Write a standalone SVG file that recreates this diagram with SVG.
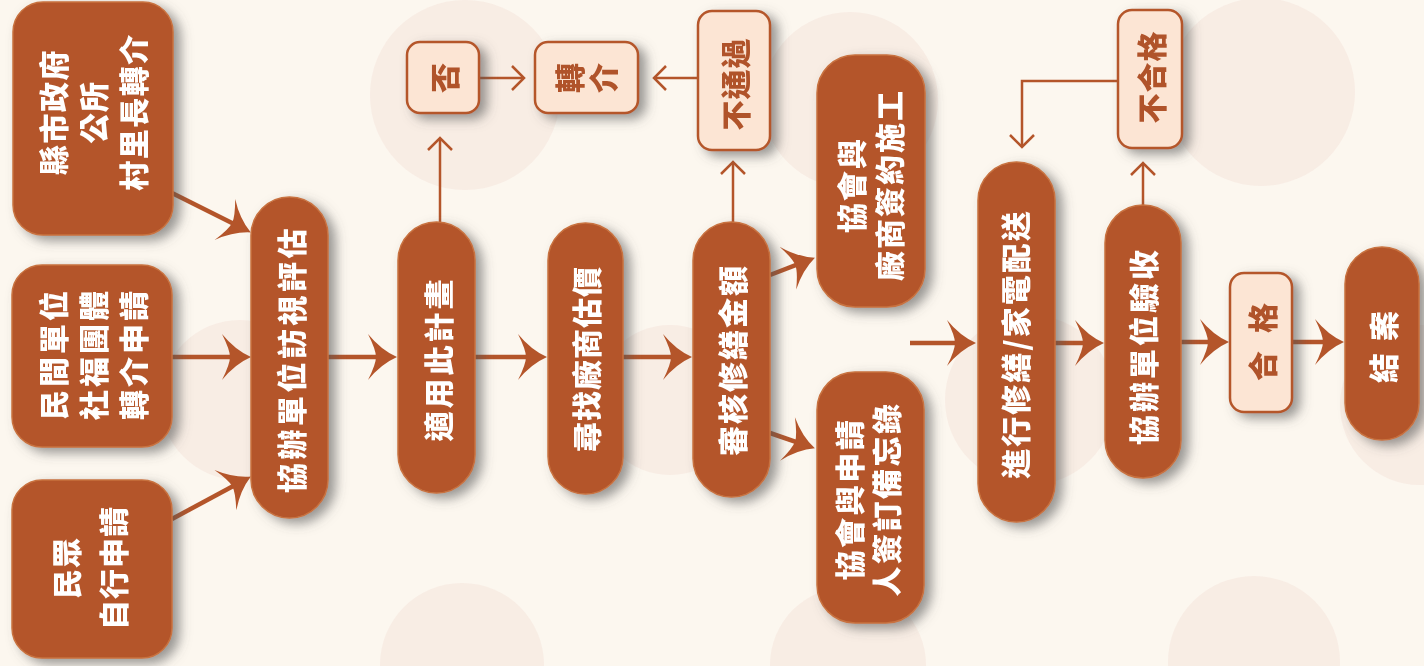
<svg xmlns="http://www.w3.org/2000/svg" width="1424" height="666" viewBox="0 0 1424 666">
<defs>
<style>
.dk{fill:#b4552a;stroke:#c8723f;stroke-width:1.5}
.lt{fill:#fce5d4;stroke:#b5572b;stroke-width:2.5}
.tw{fill:#ffffff;font-family:"Noto Sans CJK TC","Noto Sans CJK SC",sans-serif;font-weight:900;font-size:30px;text-anchor:middle;dominant-baseline:central}
.tb{fill:#b0532a;font-family:"Noto Sans CJK TC","Noto Sans CJK SC",sans-serif;font-weight:900;font-size:30px;text-anchor:middle;dominant-baseline:central}
tspan{dominant-baseline:central}
.big{fill:none;stroke:#b4552a;stroke-width:4.5}
.thin{fill:none;stroke:#b4552a;stroke-width:2.5}
.bg{fill:#f4dfd6;opacity:0.45}
</style>
<filter id="sh" x="-30%" y="-30%" width="170%" height="170%">
<feGaussianBlur in="SourceAlpha" stdDeviation="6"/>
<feOffset dx="7" dy="5" result="b"/>
<feFlood flood-color="#555" flood-opacity="0.6"/>
<feComposite in2="b" operator="in"/>
<feMerge><feMergeNode/><feMergeNode in="SourceGraphic"/></feMerge>
</filter>
<marker id="ab" markerUnits="userSpaceOnUse" markerWidth="34" markerHeight="46" viewBox="0 0 34 46" refX="21" refY="23" orient="auto" overflow="visible">
<path d="M32,23 Q16,16 3,0 Q11,16 11,23 Q11,30 3,46 Q16,30 32,23 Z" fill="#b4552a"/>
</marker>
<marker id="at" markerUnits="userSpaceOnUse" markerWidth="16" markerHeight="28" viewBox="0 0 16 28" refX="13" refY="14" orient="auto" overflow="visible">
<path d="M1,2 L13,14 L1,26" fill="none" stroke="#b4552a" stroke-width="2.5"/>
</marker>
</defs>
<rect x="0" y="0" width="1424" height="666" fill="#fcf7ef"/>
<g id="background">
<circle class="bg" cx="465" cy="95" r="95"/>
<circle class="bg" cx="850" cy="100" r="88"/>
<circle class="bg" cx="1261" cy="92" r="94"/>
<circle class="bg" cx="240" cy="400" r="80"/>
<circle class="bg" cx="670" cy="400" r="75"/>
<circle class="bg" cx="1030" cy="400" r="85"/>
<circle class="bg" cx="1420" cy="405" r="80"/>
<circle class="bg" cx="462" cy="665" r="82"/>
<circle class="bg" cx="848" cy="665" r="78"/>
<circle class="bg" cx="1254" cy="662" r="86"/>
</g>
<g id="connectors">
<line class="big" x1="172" y1="193" x2="241" y2="227.5" marker-end="url(#ab)"/>
<line class="big" x1="172" y1="357" x2="240" y2="357" marker-end="url(#ab)"/>
<line class="big" x1="172" y1="519" x2="241.2" y2="481.7" marker-end="url(#ab)"/>
<line class="big" x1="328" y1="357" x2="386" y2="357" marker-end="url(#ab)"/>
<line class="big" x1="475" y1="357" x2="536" y2="357" marker-end="url(#ab)"/>
<line class="big" x1="623" y1="357" x2="681" y2="357" marker-end="url(#ab)"/>
<line class="big" x1="770" y1="275" x2="804.7" y2="261.6" marker-end="url(#ab)"/>
<line class="big" x1="770" y1="433" x2="804.5" y2="444.8" marker-end="url(#ab)"/>
<line class="big" x1="910" y1="343" x2="965" y2="343" marker-end="url(#ab)"/>
<line class="big" x1="1055" y1="343" x2="1093" y2="343" marker-end="url(#ab)"/>
<line class="big" x1="1181" y1="342" x2="1218" y2="342" marker-end="url(#ab)"/>
<line class="big" x1="1292" y1="342" x2="1333" y2="342" marker-end="url(#ab)"/>
<line class="thin" x1="440" y1="222" x2="440" y2="138" marker-end="url(#at)"/>
<line class="thin" x1="479" y1="78" x2="524" y2="78" marker-end="url(#at)"/>
<line class="thin" x1="698" y1="78" x2="654" y2="78" marker-end="url(#at)"/>
<line class="thin" x1="733" y1="222" x2="733" y2="162" marker-end="url(#at)"/>
<line class="thin" x1="1143" y1="205" x2="1143" y2="163" marker-end="url(#at)"/>
<polyline class="thin" points="1118,81 1022,81 1022,147" marker-end="url(#at)"/>
</g>
<g id="n-county" filter="url(#sh)">
<rect class="dk" x="13" y="2" width="160" height="233" rx="30"/>
<text class="tw" transform="translate(92,112) rotate(-90)" letter-spacing="1.5"><tspan x="0" y="-40">縣市政府</tspan><tspan x="0" y="0">公所</tspan><tspan x="0" y="40">村里長轉介</tspan></text>
</g>
<g id="n-civil" filter="url(#sh)">
<rect class="dk" x="12" y="265" width="160" height="182" rx="30"/>
<text class="tw" transform="translate(92,354) rotate(-90)" letter-spacing="3"><tspan x="0" y="-40">民間單位</tspan><tspan x="0" y="0">社福團體</tspan><tspan x="0" y="40">轉介申請</tspan></text>
</g>
<g id="n-self" filter="url(#sh)">
<rect class="dk" x="12" y="480" width="160" height="178" rx="30"/>
<text class="tw" transform="translate(89,568) rotate(-90)" letter-spacing="1"><tspan x="0" y="-24">民眾</tspan><tspan x="0" y="23">自行申請</tspan></text>
</g>
<g id="n-visit" filter="url(#sh)">
<rect class="dk" x="251" y="197" width="77" height="321" rx="38.5"/>
<text class="tw" transform="translate(290,359) rotate(-90)" letter-spacing="3.5">協辦單位訪視評估</text>
</g>
<g id="n-apply" filter="url(#sh)">
<rect class="dk" x="398" y="222" width="77" height="271" rx="38.5"/>
<text class="tw" transform="translate(437,359) rotate(-90)" letter-spacing="3">適用此計畫</text>
</g>
<g id="n-quote" filter="url(#sh)">
<rect class="dk" x="548" y="223" width="75" height="271" rx="37.5"/>
<text class="tw" transform="translate(585,359) rotate(-90)" letter-spacing="1">尋找廠商估價</text>
</g>
<g id="n-review" filter="url(#sh)">
<rect class="dk" x="693" y="222" width="77" height="275" rx="38.5"/>
<text class="tw" transform="translate(731,360) rotate(-90)" letter-spacing="2">審核修繕金額</text>
</g>
<g id="n-no" filter="url(#sh)">
<rect class="lt" x="407" y="42" width="72" height="71" rx="13"/>
<text class="tb" transform="translate(443,78) rotate(-90)">否</text>
</g>
<g id="n-refer" filter="url(#sh)">
<rect class="lt" x="535" y="42" width="103" height="71" rx="13"/>
<text class="tb" transform="translate(568,78) rotate(-90)">轉</text>
<text class="tb" transform="translate(602,78) rotate(-90)">介</text>
</g>
<g id="n-fail1" filter="url(#sh)">
<rect class="lt" x="698" y="11" width="72" height="139" rx="14"/>
<text class="tb" transform="translate(734,84) rotate(-90)" letter-spacing="1">不通過</text>
</g>
<g id="n-contract" filter="url(#sh)">
<rect class="dk" x="817" y="55" width="108" height="252" rx="38"/>
<text class="tw" transform="translate(869,185) rotate(-90)" letter-spacing="2"><tspan x="0" y="-19">協會與</tspan><tspan x="0" y="19">廠商簽約施工</tspan></text>
</g>
<g id="n-memo" filter="url(#sh)">
<rect class="dk" x="817" y="372" width="107" height="251" rx="38"/>
<text class="tw" transform="translate(866,499) rotate(-90)" letter-spacing="2.5"><tspan x="0" y="-18">協會與申請</tspan><tspan x="0" y="19">人簽訂備忘錄</tspan></text>
</g>
<g id="n-repair" filter="url(#sh)">
<rect class="dk" x="978" y="162" width="77" height="360" rx="38.5"/>
<text class="tw" transform="translate(1014,344) rotate(-90)" letter-spacing="2">進行修繕/家電配送</text>
</g>
<g id="n-inspect" filter="url(#sh)">
<rect class="dk" x="1105" y="205" width="76" height="273" rx="38"/>
<text class="tw" transform="translate(1142,346) rotate(-90)" letter-spacing="3">協辦單位驗收</text>
</g>
<g id="n-fail2" filter="url(#sh)">
<rect class="lt" x="1118" y="10" width="64" height="138" rx="14"/>
<text class="tb" transform="translate(1150,77) rotate(-90)" letter-spacing="1">不合格</text>
</g>
<g id="n-pass" filter="url(#sh)">
<rect class="lt" x="1230" y="273" width="62" height="139" rx="14"/>
<text class="tb" transform="translate(1261,366) rotate(-90)">合</text>
<text class="tb" transform="translate(1261,318) rotate(-90)">格</text>
</g>
<g id="n-close" filter="url(#sh)">
<rect class="dk" x="1345" y="247" width="74" height="193" rx="37"/>
<text class="tw" transform="translate(1382,368) rotate(-90)">結</text>
<text class="tw" transform="translate(1382,326) rotate(-90)">案</text>
</g>
</svg>
